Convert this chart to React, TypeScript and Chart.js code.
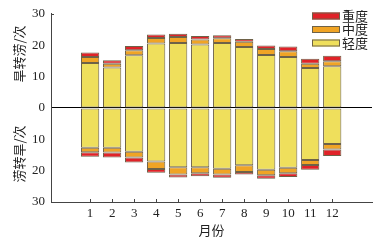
import React, { useEffect, useRef } from "react";
import { Chart, registerables } from "chart.js";

Chart.register(...registerables);

const months = [1, 2, 3, 4, 5, 6, 7, 8, 9, 10, 11, 12];
const upLight = [14.3, 12.9, 16.8, 20.5, 20.7, 20.2, 20.7, 19.4, 16.9, 16.2, 12.7, 13.3];
const upMedium = [1.9, 1.2, 1.6, 1.8, 1.9, 1.6, 1.5, 1.7, 1.9, 1.9, 1.4, 1.6];
const upHeavy = [1.5, 1.1, 1.3, 1.1, 1.0, 1.1, 1.0, 0.9, 1.1, 1.5, 1.6, 1.7];
const downLight = [12.7, 12.7, 14.0, 17.1, 18.9, 18.9, 19.4, 18.3, 19.7, 19.1, 16.6, 11.5];
const downMedium = [1.4, 1.5, 1.8, 2.4, 2.3, 1.9, 1.8, 2.1, 1.8, 1.7, 1.6, 1.8];
const downHeavy = [1.5, 1.6, 1.6, 1.2, 1.0, 1.0, 1.1, 0.8, 1.1, 1.2, 1.5, 2.0];
const yTicks = [-30, -20, -10, 0, 10, 20, 30];
const legendLabels = ["重度", "中度", "轻度"];
const upTitle = "旱转涝/次";
const downTitle = "涝转旱/次";
const xTitle = "月份";

const RED = "#e02228";
const ORANGE = "#f0a425";
const YELLOW = "#efdf5c";
const EDGE = "#6e6248";
const SERIF = "'Liberation Serif', 'DejaVu Serif', serif";
const CJK = "'Noto Sans CJK SC', sans-serif";

export default function App() {
  const ref = useRef<HTMLCanvasElement | null>(null);
  useEffect(() => {
    if (!ref.current) return;
    const mk = (label: string, vals: number[], sign: number, color: string) => ({
      label,
      data: months.map((m, i) => ({ x: m, y: sign * vals[i] })),
      backgroundColor: color,
      borderColor: EDGE,
      borderWidth: 1,
      borderSkipped: false,
      stack: "s",
      barPercentage: 0.83,
      categoryPercentage: 1,
    });
    const deco = {
      id: "deco",
      afterDraw(chart: any) {
        const ctx = chart.ctx;
        const ca = chart.chartArea;
        const xs = chart.scales.x;
        const ys = chart.scales.y;
        ctx.save();
        ctx.strokeStyle = "#444";
        ctx.lineWidth = 1;
        // inward x ticks
        months.forEach((m) => {
          const px = Math.round(xs.getPixelForValue(m)) + 0.5;
          ctx.beginPath();
          ctx.moveTo(px, ca.bottom);
          ctx.lineTo(px, ca.bottom - 3);
          ctx.stroke();
        });
        // top y tick
        const ty = Math.round(ys.getPixelForValue(30)) + 0.5;
        ctx.beginPath();
        ctx.moveTo(ca.left, ty);
        ctx.lineTo(ca.left + 3, ty);
        ctx.stroke();
        // titles
        ctx.fillStyle = "#222";
        ctx.font = "13px " + CJK;
        ctx.textAlign = "center";
        ctx.textBaseline = "middle";
        const drawRot = (t: string, x: number, y: number) => {
          ctx.save();
          ctx.translate(x, y);
          ctx.rotate(-Math.PI / 2);
          ctx.fillText(t, 0, 0);
          ctx.restore();
        };
        drawRot(upTitle, 19.5, 54);
        drawRot(downTitle, 19.5, 154);
        ctx.fillText(xTitle, (ca.left + ca.right) / 2, 230);
        // legend
        const colors = [RED, ORANGE, YELLOW];
        legendLabels.forEach((l, i) => {
          const y = 12.5 + i * 13.5;
          ctx.fillStyle = colors[i];
          ctx.fillRect(312, y, 28, 7);
          ctx.strokeStyle = EDGE;
          ctx.strokeRect(312.5, y + 0.5, 27, 6);
          ctx.fillStyle = "#222";
          ctx.textAlign = "left";
          ctx.fillText(l, 342, y + 3.5);
        });
        ctx.restore();
      },
    };
    const chart = new Chart(ref.current, {
      type: "bar",
      data: {
        datasets: [
          mk("轻度", upLight, 1, YELLOW),
          mk("中度", upMedium, 1, ORANGE),
          mk("重度", upHeavy, 1, RED),
          mk("轻度", downLight, -1, YELLOW),
          mk("中度", downMedium, -1, ORANGE),
          mk("重度", downHeavy, -1, RED),
        ] as any,
      },
      options: {
        animation: false,
        responsive: false,
        maintainAspectRatio: false,
        layout: { padding: { top: 11, right: 6, left: 0, bottom: 0 } },
        plugins: { legend: { display: false }, tooltip: { enabled: false } },
        scales: {
          x: {
            type: "linear",
            min: -0.17,
            max: 13.2,
            afterFit: (s: any) => { s.height = 42; },
            afterBuildTicks: (s: any) => { s.ticks = months.map((m) => ({ value: m })); },
            grid: { display: false, drawTicks: false },
            border: { display: true, color: "#444" },
            ticks: { color: "#222", font: { family: SERIF, size: 13 }, padding: 4, maxRotation: 0 },
          },
          y: {
            stacked: true,
            min: -30,
            max: 30,
            afterFit: (s: any) => { s.width = 51; },
            afterBuildTicks: (s: any) => { s.ticks = yTicks.map((v) => ({ value: v })); },
            grid: {
              drawTicks: false,
              color: (c: any) => (c.tick && c.tick.value === 0 ? "#000" : "rgba(0,0,0,0)"),
              lineWidth: 1,
            },
            border: { display: true, color: "#444" },
            ticks: {
              color: "#222",
              font: { family: SERIF, size: 13 },
              padding: 6,
              callback: (v: any) => String(Math.abs(Number(v))),
            },
          },
        },
      },
      plugins: [deco],
    } as any);
    return () => chart.destroy();
  }, []);
  return (
    <div style={{ position: "fixed", left: 0, top: 0, width: 378, height: 244, background: "#fff" }}>
      <canvas ref={ref} width={378} height={244} style={{ display: "block" }} />
    </div>
  );
}
